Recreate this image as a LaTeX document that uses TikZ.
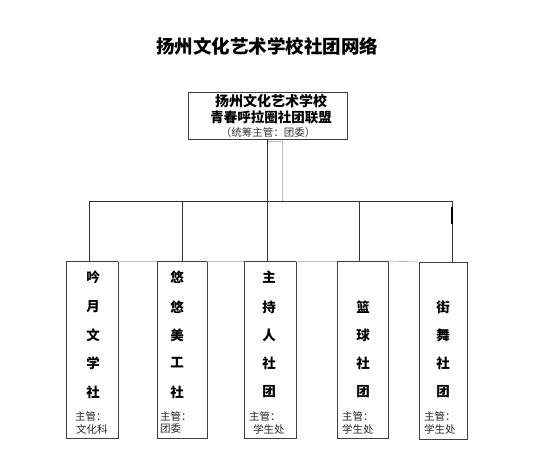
\documentclass[tikz,border=0pt]{standalone}
\usepackage{fontspec}
\setmainfont{Noto Sans CJK SC}
\begin{document}
\begin{tikzpicture}[x=1pt,y=-1pt,
  frame/.style={draw=black!75,line width=0.9pt,inner sep=0pt,outer sep=0pt},
  bus/.style={draw=black!80,line width=0.9pt},
  ch/.style={font=\bfseries\fontsize{13.5}{13.5}\selectfont,inner sep=0pt,anchor=center},
  lab/.style={font=\fontsize{10.5}{11}\selectfont,inner sep=0pt,anchor=west,text=black!85},
  faint/.style={draw=black!25,line width=0.8pt}]
\useasboundingbox (0,0) rectangle (541,471);
% title
\node[font=\bfseries\fontsize{18.5}{18.5}\selectfont,inner sep=0pt] (title) at (267,46) {扬州文化艺术学校社团网络};
% top box
\node[frame,minimum width=159pt,minimum height=47pt] (top) at (267.5,115.5) {};
\node[font=\bfseries\fontsize{14}{14}\selectfont,inner sep=0pt] (t1) at (271,101) {扬州文化艺术学校};
\node[font=\bfseries\fontsize{13.5}{13.5}\selectfont,inner sep=0pt] (t2) at (271,117) {青春呼拉圈社团联盟};
\node[font=\fontsize{10.5}{11}\selectfont,inner sep=0pt,text=black!80] (t3) at (268,133) {（统筹主管：团委）};
% small frame under top box
\coordinate (f1) at (267,141);
\coordinate (f2) at (282,141);
\coordinate (f3) at (282,201);
\draw[faint] (f1) -- (f2) -- (f3);
% bus
\coordinate (tr) at (267,201);
\coordinate (d1) at (89,201);
\coordinate (d2) at (182,201);
\coordinate (d3) at (267,201);
\coordinate (d4) at (359,201);
\coordinate (d5) at (452,201);
\draw[bus] (top.south -| tr) -- (tr);
\draw[bus] (d1) -- (d5);
% boxes
\node[frame,minimum width=52pt,minimum height=177pt] (b1) at (92,349.5) {};
\node[frame,minimum width=50pt,minimum height=177pt] (b2) at (182,349.5) {};
\node[frame,minimum width=52pt,minimum height=177pt] (b3) at (270,349.5) {};
\node[frame,minimum width=51pt,minimum height=177pt] (b4) at (362.5,349.5) {};
\node[frame,minimum width=48pt,minimum height=177pt] (b5) at (443,350.5) {};
% faint line along box tops
\draw[faint] (b1.north east) -- (b2.north west);
\draw[faint] (b2.north east) -- (b3.north west);
\draw[faint] (b3.north east) -- (b4.north west);
\draw[faint] (b4.north east) -- (b5.north west);
% drops
\draw[bus] (d1) -- (d1 |- b1.north);
\draw[bus] (d2) -- (d2 |- b2.north);
\draw[bus] (d3) -- (d3 |- b3.north);
\draw[bus] (d4) -- (d4 |- b4.north);
\draw[bus] (d5) -- (d5 |- b5.north);
\draw[line width=2.2pt] (452,207) -- (452,224);
% box 1
\node[ch] (a1) at (93,277) {吟};
\node[ch] (a2) at (93,307) {月};
\node[ch] (a3) at (93,335) {文};
\node[ch] (a4) at (93,363) {学};
\node[ch] (a5) at (93,392) {社};
\node[lab] (al1) at (75,416) {主管：};
\node[lab] (al2) at (76,429) {文化科};
% box 2
\node[ch] (b21) at (177,277) {悠};
\node[ch] (b22) at (177,307) {悠};
\node[ch] (b23) at (177,335) {美};
\node[ch] (b24) at (177,363) {工};
\node[ch] (b25) at (177,392) {社};
\node[lab] (bl1) at (160,416) {主管：};
\node[lab] (bl2) at (160,429) {团委};
% box 3
\node[ch] (c1) at (269,277) {主};
\node[ch] (c2) at (269,307) {持};
\node[ch] (c3) at (269,335) {人};
\node[ch] (c4) at (269,363) {社};
\node[ch] (c5) at (269,392) {团};
\node[lab] (cl1) at (249,416) {主管：};
\node[lab] (cl2) at (253,429) {学生处};
% box 4
\node[ch] (e2) at (363,307) {篮};
\node[ch] (e3) at (363,335) {球};
\node[ch] (e4) at (363,363) {社};
\node[ch] (e5) at (363,392) {团};
\node[lab] (el1) at (342,416) {主管：};
\node[lab] (el2) at (342,429) {学生处};
% box 5
\node[ch] (g2) at (443,307) {街};
\node[ch] (g3) at (443,335) {舞};
\node[ch] (g4) at (443,363) {社};
\node[ch] (g5) at (443,392) {团};
\node[lab] (gl1) at (424,416) {主管：};
\node[lab] (gl2) at (424,429) {学生处};
\end{tikzpicture}
\end{document}
